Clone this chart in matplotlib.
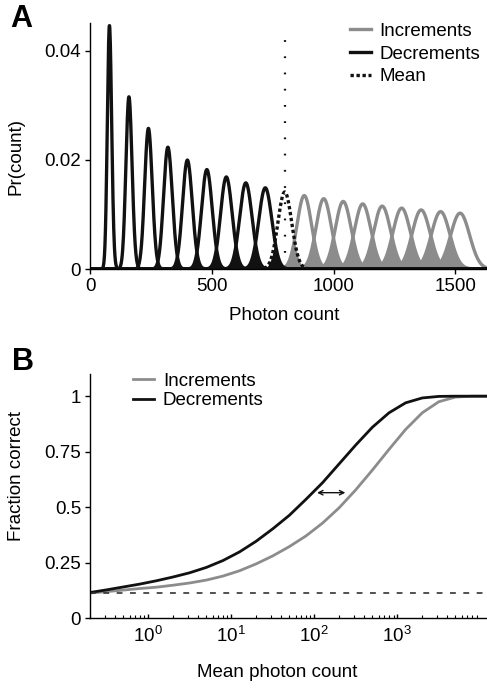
import numpy as np
import math
import matplotlib
matplotlib.use('Agg')
import matplotlib.pyplot as plt
from matplotlib.ticker import NullFormatter, LogLocator

plt.rcParams['font.family'] = ['Liberation Sans', 'DejaVu Sans']
plt.rcParams['mathtext.fontset'] = 'custom'
plt.rcParams['mathtext.rm'] = 'Liberation Sans'

# ---------------- data ----------------
# panel A: Poisson photon-count distributions (means)
dec_means = [80, 160, 240, 320, 400, 480, 560, 640, 720]
mean_count = 800
inc_means = [880, 960, 1040, 1120, 1200, 1280, 1360, 1440, 1520]

# panel B: fraction correct vs mean photon count
log_count = [-0.70, -0.50, -0.30, -0.10, 0.10, 0.30, 0.50, 0.70, 0.90, 1.10,
             1.30, 1.50, 1.70, 1.90, 2.10, 2.30, 2.50, 2.70, 2.90, 3.10,
             3.30, 3.50, 3.70, 3.90, 4.10]
frac_dec = [0.115, 0.127, 0.140, 0.153, 0.168, 0.185, 0.204, 0.228, 0.259, 0.298,
            0.346, 0.402, 0.463, 0.535, 0.610, 0.695, 0.780, 0.860, 0.925, 0.970,
            0.992, 0.999, 1.000, 1.000, 1.000]
frac_inc = [0.113, 0.119, 0.126, 0.133, 0.139, 0.148, 0.158, 0.171, 0.189, 0.213,
            0.244, 0.280, 0.322, 0.370, 0.428, 0.497, 0.578, 0.667, 0.760, 0.850,
            0.925, 0.975, 0.996, 1.000, 1.000]
chance = 1.0 / 9
arrow_x = [108, 237]
arrow_y = 0.565

GRAY = '#8c8c8c'
BLACK = '#111111'
FS = 13.5

def poisson(k, mu):
    lg = np.array([math.lgamma(v + 1) for v in k])
    return np.exp(k * np.log(mu) - mu - lg)

fig = plt.figure(figsize=(4.87, 6.88), dpi=100)

# ---------------- panel A ----------------
axA = fig.add_axes([0.185, 0.609, 0.815, 0.358])
k = np.arange(0, 1700, 1.0)
all_means = dec_means + [mean_count] + inc_means
curves = [poisson(k, m) for m in all_means]

# overlap between neighbouring distributions
for i in range(len(all_means) - 1):
    col = BLACK if all_means[i] < mean_count else GRAY
    axA.fill_between(k, 0, np.minimum(curves[i], curves[i + 1]), color=col, lw=0)

for m, c in zip(all_means, curves):
    if m > mean_count:
        axA.plot(k, c, color=GRAY, lw=2.4)
for m, c in zip(all_means, curves):
    if m < mean_count:
        axA.plot(k, c, color=BLACK, lw=2.4)
for m, c in zip(all_means, curves):
    if m == mean_count:
        axA.plot(k, c, color=BLACK, lw=2.4, linestyle=(0, (1, 0.8)))
axA.plot([mean_count, mean_count], [0, 0.0435], color=BLACK, lw=1.6,
         linestyle=(0, (0.8, 6.5)))

axA.plot([], [], color=GRAY, lw=2.4, label='Increments')
axA.plot([], [], color=BLACK, lw=2.4, label='Decrements')
axA.plot([], [], color=BLACK, lw=2.4, linestyle=(0, (1, 0.8)), label='Mean')
axA.legend(loc='upper left', bbox_to_anchor=(0.655, 1.0), frameon=False,
           fontsize=FS, handlelength=1.1, handletextpad=0.45, borderpad=0,
           borderaxespad=0, labelspacing=0.3)

axA.set_xlim(0, 1630)
axA.set_ylim(0, 0.0451)
axA.set_xticks([0, 500, 1000, 1500])
axA.set_yticks([0, 0.02, 0.04])
axA.set_yticklabels(['0', '0.02', '0.04'])
axA.set_xlabel('Photon count', fontsize=FS)
axA.set_ylabel('Pr(count)', fontsize=FS)
axA.yaxis.set_label_coords(-0.165, 0.455)
axA.xaxis.set_label_coords(0.49, -0.155)

# ---------------- panel B ----------------
axB = fig.add_axes([0.185, 0.1017, 0.815, 0.3547])
xc = 10.0 ** np.array(log_count)
axB.plot(xc, frac_inc, color=GRAY, lw=2.0, label='Increments')
axB.plot(xc, frac_dec, color=BLACK, lw=2.0, label='Decrements')
axB.axhline(chance, color='#333333', lw=1.2, linestyle=(0, (3.5, 4.5)))
axB.annotate('', xy=(arrow_x[1], arrow_y), xytext=(arrow_x[0], arrow_y),
             arrowprops=dict(arrowstyle='<->', color=BLACK, lw=1.0,
                             shrinkA=0, shrinkB=0, mutation_scale=8))
axB.set_xscale('log')
axB.set_xlim(0.2, 10 ** 4.08)
axB.set_ylim(0, 1.1)
axB.set_xticks([1, 10, 100, 1000])
axB.xaxis.set_minor_locator(LogLocator(base=10, subs=np.arange(2, 10), numticks=20))
axB.xaxis.set_minor_formatter(NullFormatter())
axB.set_yticks([0, 0.25, 0.5, 0.75, 1])
axB.set_yticklabels(['0', '0.25', '0.5', '0.75', '1'])
axB.set_xlabel('Mean photon count', fontsize=FS)
axB.set_ylabel('Fraction correct', fontsize=FS)
axB.yaxis.set_label_coords(-0.165, 0.58)
axB.xaxis.set_label_coords(0.472, -0.19)
axB.legend(loc='upper left', bbox_to_anchor=(0.108, 1.005), frameon=False,
           fontsize=FS, handlelength=1.1, handletextpad=0.5, borderpad=0,
           borderaxespad=0, labelspacing=0.12)

for ax in (axA, axB):
    ax.spines['top'].set_visible(False)
    ax.spines['right'].set_visible(False)
    ax.spines['left'].set_linewidth(1.0)
    ax.spines['bottom'].set_linewidth(1.0)
    ax.tick_params(axis='both', which='major', labelsize=FS, length=3.5,
                   width=1.0, pad=3, direction='out')
axB.tick_params(axis='x', which='major', direction='in', length=3, pad=6)
axB.tick_params(axis='x', which='minor', direction='in', length=2, width=0.8)

fig.text(0.02, 0.994, 'A', fontsize=22, fontweight='bold', va='top', ha='left')
fig.text(0.024, 0.495, 'B', fontsize=22, fontweight='bold', va='top', ha='left')

fig.savefig('out.png', dpi=100)
